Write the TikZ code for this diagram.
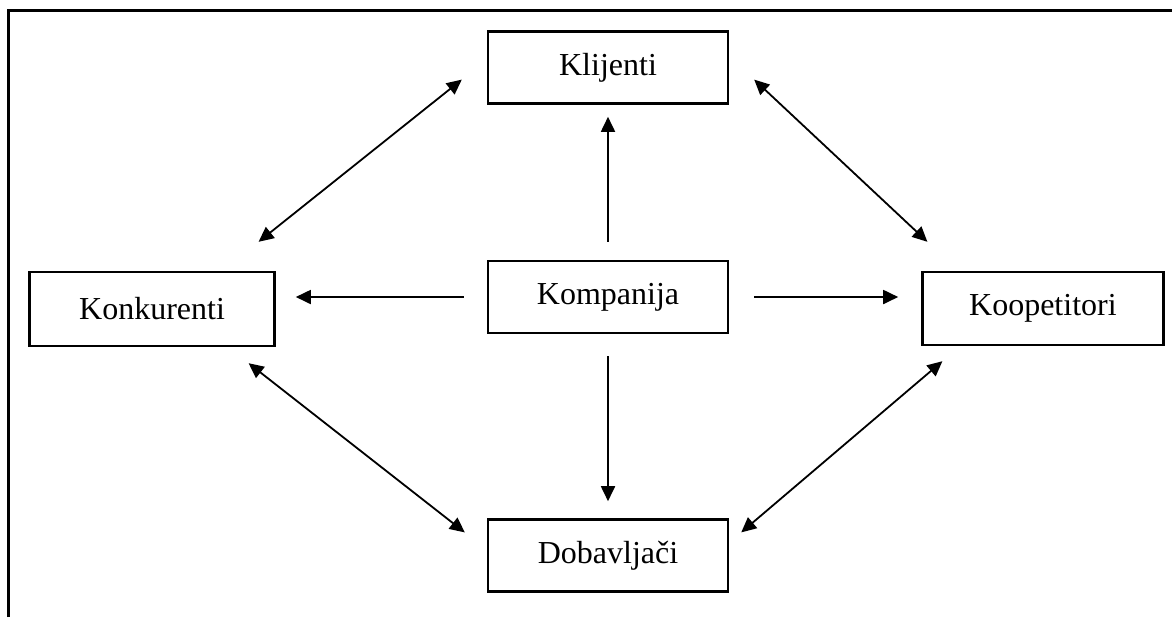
\documentclass[tikz,border=0pt]{standalone}
\usepackage{fontspec}
\setmainfont{Liberation Serif}
\usetikzlibrary{positioning}
\usetikzlibrary{arrows.meta}

\tikzset{
	box/.style = {draw, line width = 1.2pt, minimum width = 120pt, minimum height = 36pt, font = \fontsize{16}{19}\selectfont},
	link/.style = {line width = .9pt},
	>={Triangle[length = 7.5pt, width = 7pt]}
}

\begin{document}
\begin{tikzpicture}[x = .5pt, y = -.5pt]
	\useasboundingbox (0,0) rectangle (1172,617);
	\draw[line width = 1.5pt] (8,617) -- (8,10) -- (1172,10);

	\node[box] (komp) at (608,297) {Kompanija};
	\node[box, above = 77.5pt of komp] (klij) {Klijenti};
	\node[box, below = 92pt of komp] (dob) {Dobavljači};
	\node[box, minimum width = 122.5pt, minimum height = 37pt, left = 105.5pt of komp, yshift = -6pt] (konk) {Konkurenti};
	\node[box, minimum width = 120.5pt, minimum height = 36.5pt, right = 96pt of komp, yshift = -5.75pt] (koop) {Koopetitori};

	\path (komp.north) edge[link, ->, shorten < = 9pt, shorten > = 6pt] (klij.south);
	\path (komp.south) edge[link, ->, shorten < = 11pt, shorten > = 8.5pt] (dob.north);
	\path (komp.west) edge[link, ->, shorten < = 11.5pt, shorten > = 10pt] (komp.west -| konk.east);
	\path (komp.east) edge[link, ->, shorten < = 12.5pt, shorten > = 11.5pt] (komp.east -| koop.west);

	\path ([xshift = -12.5pt, yshift = -6pt]klij.west) edge[link, <->] ([xshift = 53.25pt, yshift = 14.5pt]konk.north);
	\path ([xshift = 12.5pt, yshift = -6pt]klij.east) edge[link, <->] ([xshift = -57.75pt, yshift = 14.5pt]koop.north);
	\path ([xshift = 48.25pt, yshift = -8pt]konk.south) edge[link, <->] ([xshift = -11pt, yshift = 11.5pt]dob.west);
	\path ([xshift = -50.25pt, yshift = -7.5pt]koop.south) edge[link, <->] ([xshift = 6pt, yshift = 11.5pt]dob.east);
\end{tikzpicture}
\end{document}
